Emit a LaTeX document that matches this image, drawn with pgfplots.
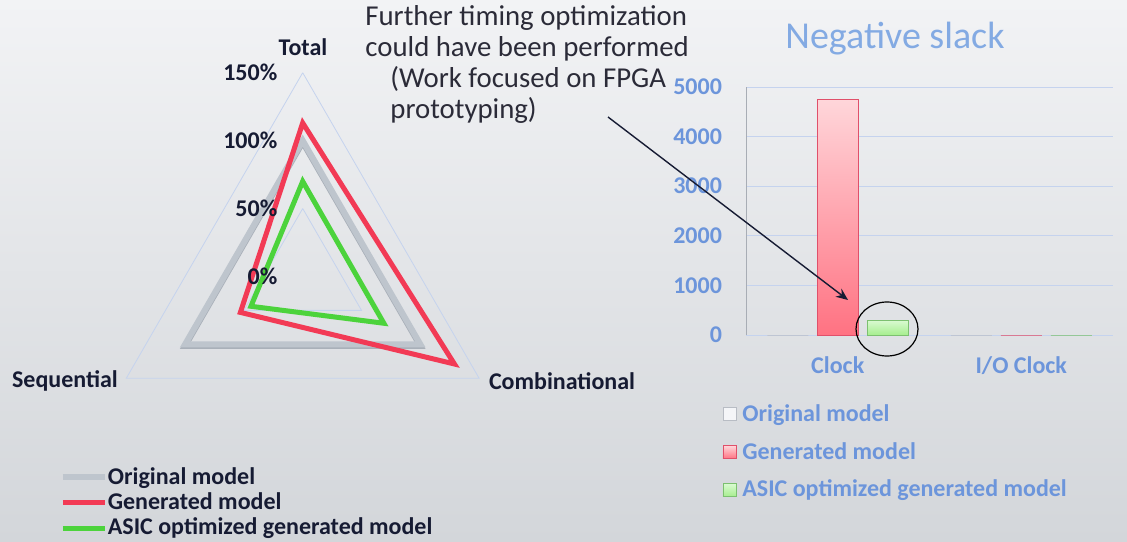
\documentclass[border=0pt]{standalone}
\usepackage{pgfplots}
\pgfplotsset{compat=1.18}
\usepgfplotslibrary{polar}
\usetikzlibrary{arrows.meta}
\usepackage{fontspec}
\setmainfont{Carlito}

\definecolor{bgtop}{HTML}{F2F3F5}
\definecolor{bgbot}{HTML}{D3D6DA}
\definecolor{tickblue}{HTML}{6C95DB}
\definecolor{titleblue}{HTML}{83AAE3}
\definecolor{labeldark}{HTML}{161B33}
\definecolor{notedark}{HTML}{2B2B38}
\definecolor{gridblue}{HTML}{C5D3EE}
\definecolor{origline}{HTML}{BEC5CD}
\definecolor{origshadow}{HTML}{A9B0B9}
\definecolor{genline}{HTML}{F23A55}
\definecolor{asicline}{HTML}{4CD33C}
\definecolor{redtop}{HTML}{FFD6DA}
\definecolor{redbot}{HTML}{FF7282}
\definecolor{reddraw}{HTML}{E0506A}
\definecolor{grntop}{HTML}{DAFAD2}
\definecolor{grnbot}{HTML}{A6EE8E}
\definecolor{grndraw}{HTML}{7CC070}
\definecolor{origfill}{HTML}{F4F5F8}
\definecolor{origdraw}{HTML}{B8BCC4}
\definecolor{axisgray}{HTML}{A8ADB5}

\newcommand{\lbl}{\bfseries\fontsize{12}{12}\selectfont}
\newcommand{\note}{\fontsize{14.4}{14.4}\selectfont}

\begin{document}
\begin{tikzpicture}
\fill[top color=bgtop, bottom color=bgbot] (0,0) rectangle (563.5pt,270.5pt);
\useasboundingbox (0,0) rectangle (563.5pt,270.5pt);

% radar chart
\begin{polaraxis}[
    at={(151.35pt,132.3pt)}, anchor=origin,
    scale only axis, width=203.7pt, height=203.7pt,
    ymin=0, ymax=1.5, hide axis, clip=false,
    legend style={at={(-0.097,0.037)}, anchor=north west, draw=none, fill=none,
        font=\lbl, text=labeldark, row sep=0.75pt, column sep=-1pt, inner sep=0pt,
        nodes={inner sep=1pt}, cells={anchor=west}},
    legend image code/.code={\draw[#1] (0pt,0pt) -- (21pt,0pt);},
]
\addplot[gridblue, thin, forget plot] coordinates {(90,1.5) (330,1.5) (210,1.5) (90,1.5)};
\addplot[gridblue, thin, forget plot] coordinates {(90,1.0) (330,1.0) (210,1.0) (90,1.0)};
\addplot[gridblue, thin, forget plot] coordinates {(90,0.5) (330,0.5) (210,0.5) (90,0.5)};
\addplot[origshadow, line width=3pt, line join=miter, yshift=-0.8pt, forget plot] coordinates {(90,1.0) (330,1.0) (210,1.0)} -- cycle;
\addplot[origline, line width=3pt, line join=miter] coordinates {(90,1.0) (330,1.0) (210,1.0)} -- cycle;
\addlegendentry{Original model}
\addplot[genline, line width=2.5pt, line join=miter] coordinates {(90,1.13) (330,1.29) (210,0.53)} -- cycle;
\addlegendentry{Generated model}
\addplot[asicline, line width=2.5pt, line join=miter] coordinates {(90,0.70) (330,0.69) (210,0.44)} -- cycle;
\addlegendentry{ASIC optimized generated model}
\node[anchor=east, font=\lbl, text=labeldark, inner sep=0pt, xshift=-12.5pt] at (axis cs:90,1.5) {150\%};
\node[anchor=east, font=\lbl, text=labeldark, inner sep=0pt, xshift=-12.5pt] at (axis cs:90,1.0) {100\%};
\node[anchor=east, font=\lbl, text=labeldark, inner sep=0pt, xshift=-12.5pt] at (axis cs:90,0.5) {50\%};
\node[anchor=east, font=\lbl, text=labeldark, inner sep=0pt, xshift=-12.5pt] at (axis cs:90,0) {0\%};
\end{polaraxis}
\node[font=\lbl, text=labeldark] at (151.5pt,247pt) {Total};
\node[font=\lbl, text=labeldark] at (32.5pt,80pt) {Sequential};
\node[font=\lbl, text=labeldark] at (281pt,80pt) {Combinational};

% bar chart
\begin{axis}[
    at={(373pt,103pt)}, anchor=south west,
    scale only axis, width=183.5pt, height=124pt,
    xmin=-0.5, xmax=1.5, ymin=0, ymax=5000,
    ybar=4.5pt, bar width=20.5pt,
    xtick={0,1}, xticklabels={Clock, I/O Clock},
    ytick={0,1000,2000,3000,4000,5000},
    major tick length=0pt,
    axis x line*=bottom, axis y line*=left,
    x axis line style={draw=none},
    y axis line style={draw=axisgray},
    ymajorgrids, grid style={gridblue, thin},
    /pgf/number format/assume math mode=true,
    /pgf/number format/1000 sep={},
    ticklabel style={font=\lbl, text=tickblue},
    yticklabel style={xshift=-8.5pt},
    xticklabel style={yshift=-7.5pt},
    title={Negative slack},
    title style={at={(0.406,1.105)}, anchor=base, inner sep=0pt,
        font=\fontsize{19}{19}\selectfont, text=titleblue},
    legend style={at={(-0.065,-0.27)}, anchor=north west, draw=none, fill=none,
        font=\lbl, text=tickblue, row sep=7pt, column sep=2pt, inner sep=0pt,
        nodes={inner sep=1pt}, cells={anchor=west}},
    legend image code/.code={\draw[#1] (0pt,-3.25pt) rectangle (6.5pt,3.25pt);},
]
\addplot[fill=origfill, draw=origdraw] coordinates {(0,0) (1,0)};
\addlegendentry{Original model}
\addplot[top color=redtop, bottom color=redbot, draw=reddraw] coordinates {(0,4750) (1,0)};
\addlegendentry{Generated model}
\addplot[top color=grntop, bottom color=grnbot, draw=grndraw] coordinates {(0,300) (1,0)};
\addlegendentry{ASIC optimized generated model}
\end{axis}

% annotation
\node[anchor=base west, inner sep=0pt, font=\note, text=notedark] at (182.5pt,257.5pt) {Further timing optimization};
\node[anchor=base west, inner sep=0pt, font=\note, text=notedark] at (182.5pt,242pt) {could have been performed};
\node[anchor=base west, inner sep=0pt, font=\note, text=notedark] at (195pt,226.5pt) {(Work focused on FPGA};
\node[anchor=base west, inner sep=0pt, font=\note, text=notedark] at (195pt,211pt) {prototyping)};
\draw[-{Stealth[length=6pt,width=5pt]}, line width=0.7pt, labeldark] (304pt,212pt) -- (424pt,120.5pt);
\draw[line width=0.6pt, black] (443.5pt,106pt) ellipse [x radius=15.5pt, y radius=13.5pt];
\end{tikzpicture}
\end{document}
